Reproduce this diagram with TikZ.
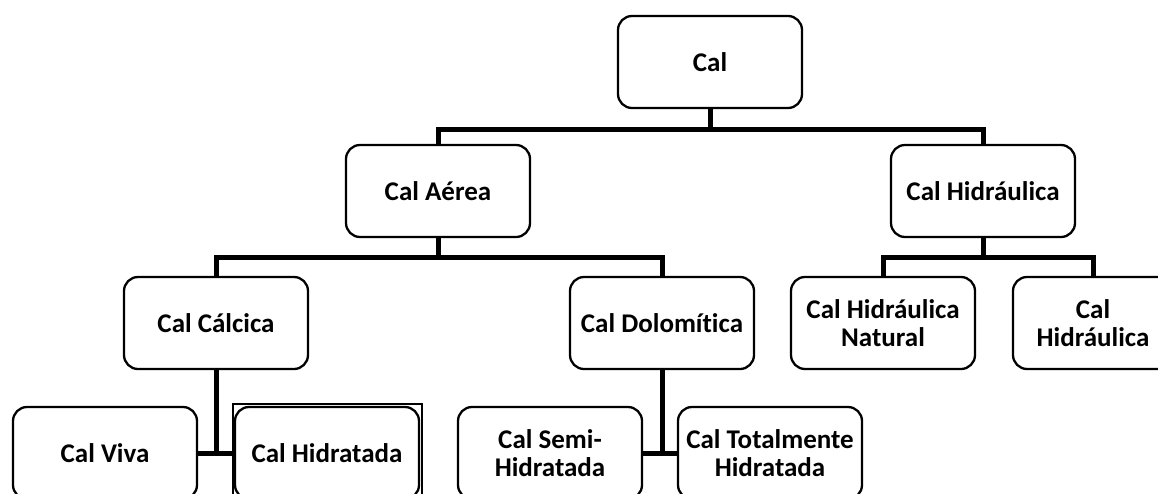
\documentclass[tikz,border=0pt]{standalone}
\usepackage{fontspec}
\setmainfont{Carlito}[Ligatures={NoCommon}]
\usetikzlibrary{calc}
\tikzset{
 box/.style={draw, rounded corners=14pt, line width=2.3pt, minimum width=184pt, minimum height=92pt, align=center, inner sep=0pt, font=\fontsize{27}{28.5}\selectfont\bfseries},
 conn/.style={line width=5pt},
 frame/.style={line width=1.5pt},
}
\begin{document}
\begin{tikzpicture}[x=1pt,y=1pt]
\useasboundingbox (0,0) rectangle (1158,-493);
\fill[white] (0,0) rectangle (1158,-493);
\node[box] (cal) at (710,-62) {Cal};
\node[box] (aerea) at (438,-191) {Cal Aérea};
\node[box] (hidr) at (983,-191) {Cal Hidráulica};
\node[box] (calc) at (216,-323) {Cal Cálcica};
\node[box] (dolo) at (662,-323) {Cal Dolomítica};
\node[box] (hnat) at (883,-323) {Cal Hidráulica\\Natural};
\node[box, minimum width=160pt] (hidr2) at (1093,-323) {Cal\\Hidráulica};
\node[box] (viva) at (105,-453) {Cal Viva};
\node[box] (hidrat) at (327,-453) {Cal Hidratada};
\node[box] (semi) at (550,-453) {Cal Semi-\\Hidratada};
\node[box] (total) at (770,-453) {Cal Totalmente\\Hidratada};
\draw[frame] ($(hidrat.north west)+(-1,2)$) rectangle ($(hidrat.south east)+(2,-2)$);
\coordinate (j1) at ($(cal.south)+(0,-20)$);
\draw[conn] (cal.south) -- (j1);
\draw[conn] (aerea.north) |- (j1) -| (hidr.north);
\coordinate (j2) at ($(aerea.south)+(0,-19)$);
\draw[conn] (aerea.south) -- (j2);
\draw[conn] (calc.north) |- (j2) -| (dolo.north);
\coordinate (j3) at ($(hidr.south)+(0,-19)$);
\draw[conn] (hidr.south) -- (j3);
\draw[conn] (hnat.north) |- (j3) -| (hidr2.north);
\draw[conn] (calc.south) -- (calc.south |- viva.east);
\draw[conn] (viva.east) -- (hidrat.west);
\draw[conn] (dolo.south) -- (dolo.south |- semi.east);
\draw[conn] (semi.east) -- (total.west);
\end{tikzpicture}
\end{document}
